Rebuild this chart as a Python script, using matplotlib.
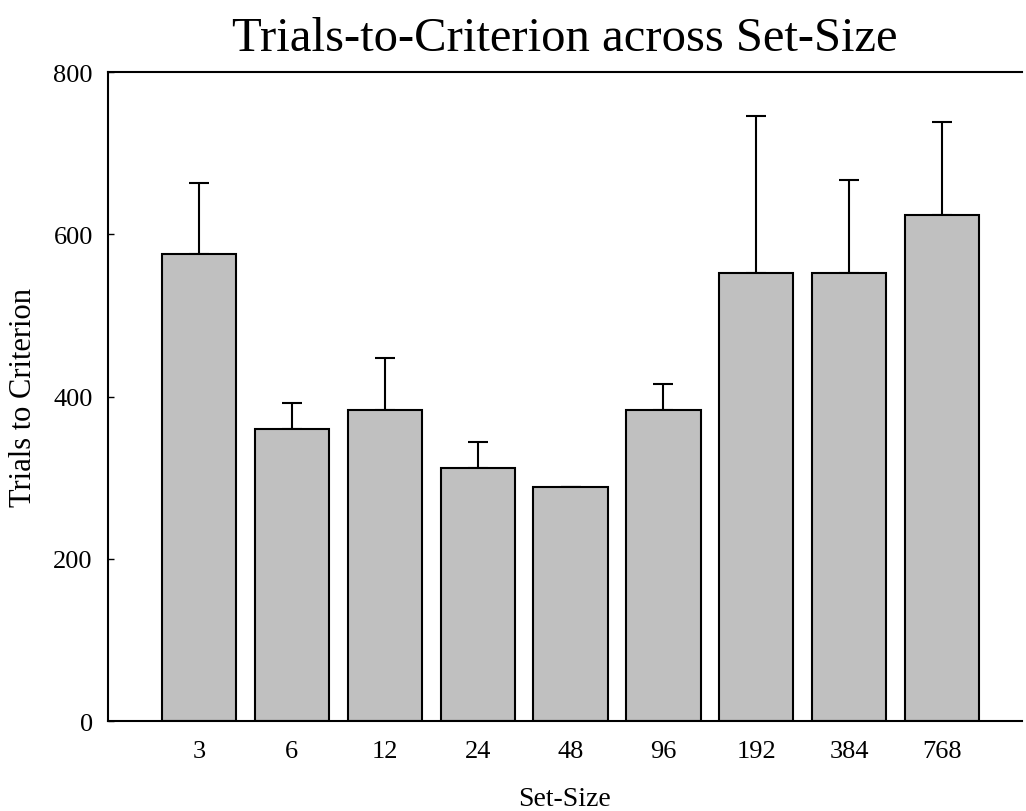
import numpy as np
import matplotlib.pyplot as plt

plt.rcParams['font.family'] = ['Liberation Serif', 'DejaVu Serif']

set_sizes = ['3', '6', '12', '24', '48', '96', '192', '384', '768']
trials = [576, 360, 384, 312, 288, 384, 552, 552, 624]
errors = [87, 32, 64, 32, 0, 32, 194, 115, 115]

fig = plt.figure(figsize=(10.26, 8.12), dpi=100)
ax = fig.add_axes([0.1053, 0.1108, 0.8907, 0.7992])

x = np.arange(len(set_sizes))
ax.bar(x, trials, width=0.8, color='#c0c0c0', edgecolor='black', linewidth=1.5, zorder=2)
# only draw the upper half of the error bar
ax.errorbar(x, trials, yerr=[np.zeros(len(errors)), errors], fmt='none',
            ecolor='black', elinewidth=1.5, capsize=7.2, capthick=1.5, zorder=1)

ax.set_xlim(-0.98, 8.86)
ax.set_ylim(0, 800)
ax.set_xticks(x)
ax.set_xticklabels(set_sizes)
ax.set_yticks([0, 200, 400, 600, 800])
ax.tick_params(axis='x', length=0, pad=14, labelsize=19)
ax.tick_params(axis='y', direction='in', length=4, width=1, pad=11, labelsize=19)

for side in ['left', 'top', 'bottom']:
    ax.spines[side].set_linewidth(1.5)
ax.spines['right'].set_visible(False)

ax.set_xlabel('Set-Size', fontsize=20, labelpad=17)
ax.set_ylabel('Trials to Criterion', fontsize=22, labelpad=11)
ax.set_title('Trials-to-Criterion across Set-Size', fontsize=35, pad=16)

fig.savefig('out.png', dpi=100)
